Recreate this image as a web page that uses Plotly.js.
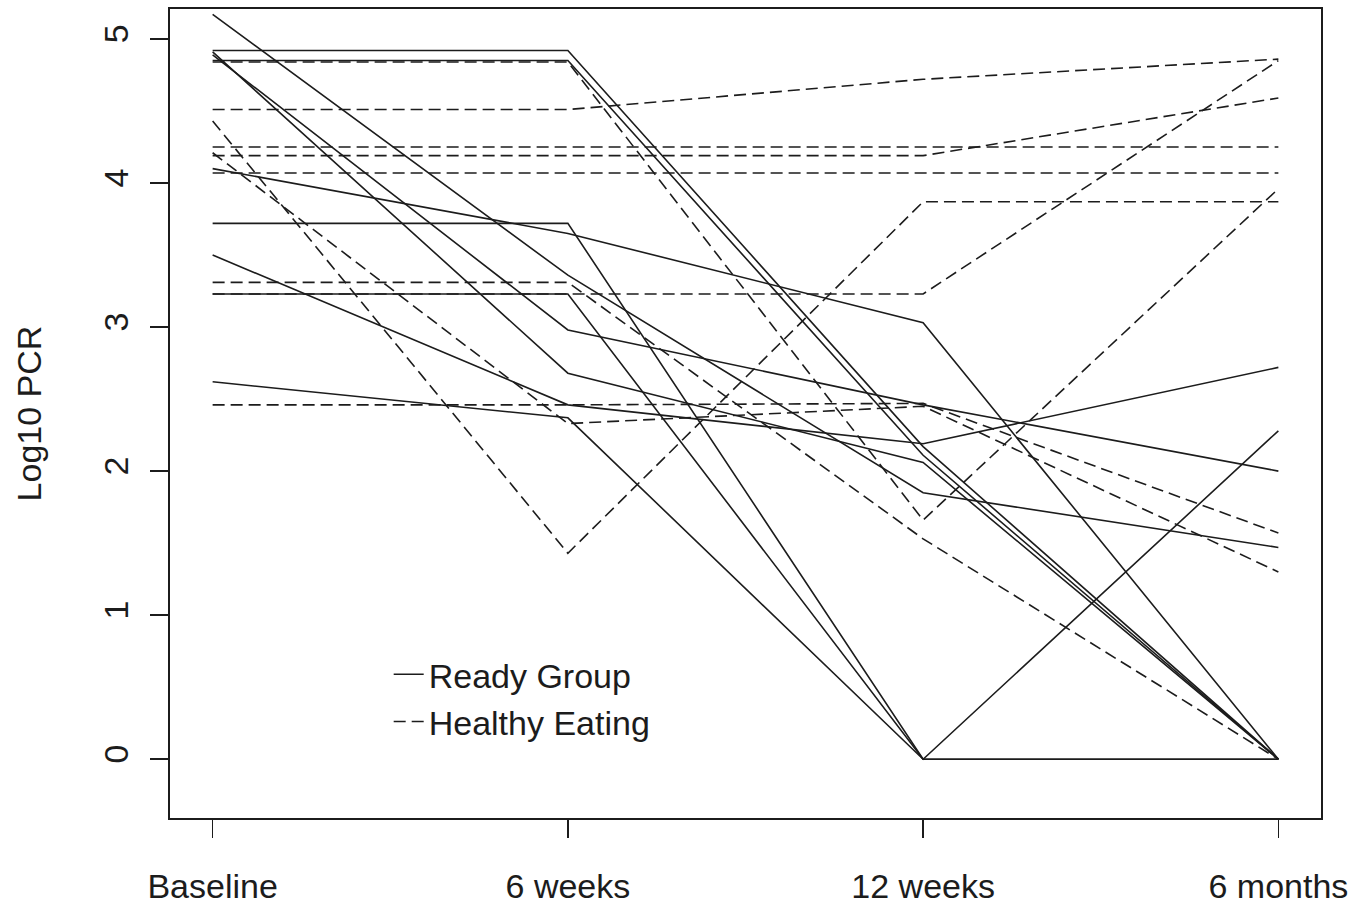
<!DOCTYPE html>
<html>
<head>
<meta charset="utf-8">
<script src="https://cdn.plot.ly/plotly-3.0.1.min.js"></script>
<style>
  html, body { margin: 0; padding: 0; background: #ffffff; }
  #chart { width: 1365px; height: 909px; }
</style>
</head>
<body>
<div id="chart"></div>
<script>
// Time points (x categories)
const timepoints = ["Baseline", "6 weeks", "12 weeks", "6 months"];

// Log10 PCR per participant, Ready Group (solid lines)
const readyGroup = [
  [4.92, 4.92, 2.17, 0.00],
  [4.85, 4.85, 2.11, 0.00],
  [5.17, 3.36, 1.85, 1.47],
  [4.91, 2.68, 2.06, 0.00],
  [4.89, 2.98, 2.46, 2.00],
  [4.10, 3.65, 3.03, 0.00],
  [3.72, 3.72, 0.00, 0.00],
  [3.50, 2.46, 2.19, 2.72],
  [3.23, 3.23, 0.00, 0.00],
  [2.62, 2.37, 0.00, 2.28]
];

// Log10 PCR per participant, Healthy Eating (dashed lines)
const healthyEating = [
  [4.84, 4.84, 1.66, 3.96],
  [4.51, 4.51, 4.72, 4.86],
  [4.43, 1.43, 3.87, 3.87],
  [4.25, 4.25, 4.25, 4.25],
  [4.21, 2.33, 2.45, 1.30],
  [4.19, 4.19, 4.19, 4.59],
  [4.07, 4.07, 4.07, 4.07],
  [3.31, 3.31, 1.53, 0.00],
  [3.23, 3.23, 3.23, 4.85],
  [2.46, 2.46, 2.47, 1.57]
];

const groupNames = ["Ready Group", "Healthy Eating"];
const yTickVals = [0, 1, 2, 3, 4, 5];

const ink = "#1c1c1c";
const fontFamily = "Liberation Sans, Arial, Helvetica, sans-serif";
const fs = 34;

const traces = [];
readyGroup.forEach((vals, i) => {
  traces.push({
    type: "scatter", mode: "lines",
    x: timepoints, y: vals,
    name: groupNames[0], legendgroup: "ready", showlegend: i === 0,
    line: { color: ink, width: 1.6, dash: "solid" },
    hoverinfo: "skip"
  });
});
healthyEating.forEach((vals, i) => {
  traces.push({
    type: "scatter", mode: "lines",
    x: timepoints, y: vals,
    name: groupNames[1], legendgroup: "healthy", showlegend: i === 0,
    line: { color: ink, width: 1.6, dash: "12px,6px" },
    hoverinfo: "skip"
  });
});

const layout = {
  width: 1365, height: 909,
  margin: { l: 170.4, r: 44.4, t: 9, b: 91, pad: 0 },
  paper_bgcolor: "#ffffff", plot_bgcolor: "#ffffff",
  font: { family: fontFamily, color: ink, size: fs },
  showlegend: true,
  legend: {
    x: 0.19, y: 0.213, xanchor: "left", yanchor: "top",
    bgcolor: "rgba(0,0,0,0)", borderwidth: 0,
    font: { family: fontFamily, size: fs, color: ink },
    tracegroupgap: 0, itemwidth: 30
  },
  xaxis: {
    type: "category",
    categoryorder: "array", categoryarray: timepoints,
    range: [-0.12, 3.12],
    showgrid: false, zeroline: false,
    showline: true, mirror: true, linecolor: ink, linewidth: 2,
    ticks: "outside", ticklen: 18, tickwidth: 1.5, tickcolor: ink,
    ticklabelstandoff: 19,
    tickfont: { family: fontFamily, size: fs, color: ink },
    automargin: false, fixedrange: true
  },
  yaxis: {
    range: [-0.408, 5.208],
    tickvals: yTickVals, ticktext: yTickVals.map(String),
    tickangle: -90,
    showgrid: false, zeroline: false,
    showline: true, mirror: true, linecolor: ink, linewidth: 2,
    ticks: "outside", ticklen: 18, tickwidth: 1.5, tickcolor: ink,
    ticklabelstandoff: 8,
    tickfont: { family: fontFamily, size: fs, color: ink },
    title: { text: "Log10 PCR", font: { family: fontFamily, size: fs, color: ink }, standoff: 46 },
    automargin: false, fixedrange: true
  }
};

Plotly.newPlot("chart", traces, layout, { displayModeBar: false, staticPlot: true });
</script>
</body>
</html>
